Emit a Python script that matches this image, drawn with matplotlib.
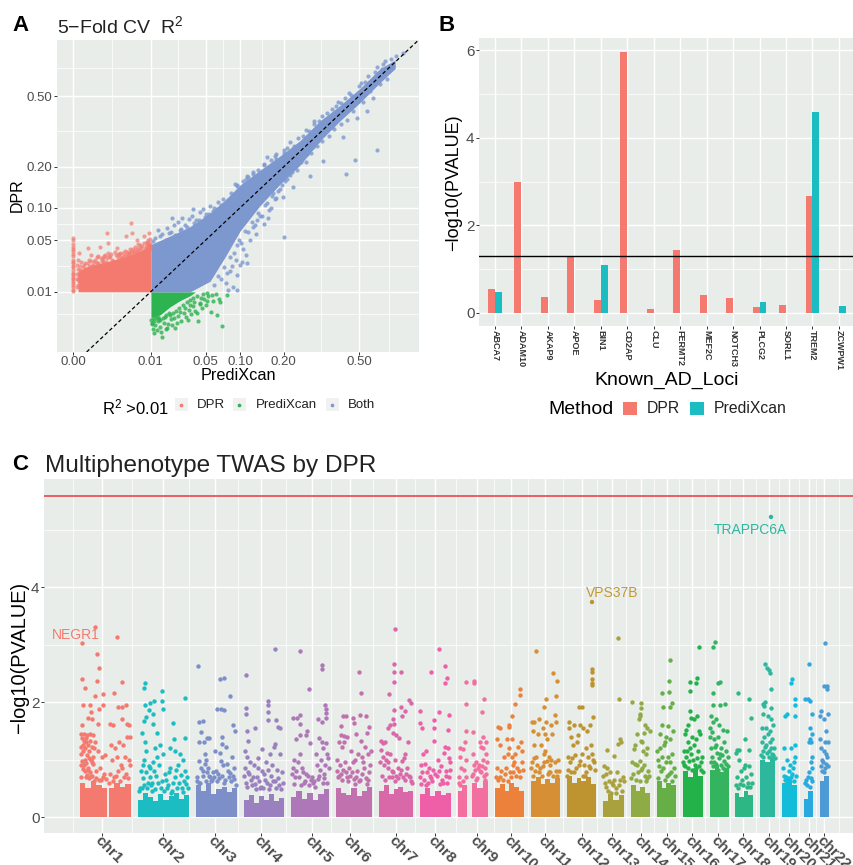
import numpy as np
from matplotlib import pyplot as plt
from matplotlib.patches import Rectangle

plt.rcParams['font.family'] = ['Liberation Sans', 'DejaVu Sans']
plt.rcParams['mathtext.default'] = 'regular'

W, H = 854, 865
BG = '#E9EDEA'
GREY = '#4D4D4D'
RED, GREEN, BLUE, TEAL = '#F47A70', '#2DB34F', '#7C98CF', '#1CBDC2'

#%% Panel A data (R2). The packed middle of each cloud
# could not be read point by point, so it is kept as an envelope (lo/hi) and
# only the loose points around it are listed.
r2_ticks = [0.0, 0.01, 0.05, 0.10, 0.20, 0.50]
r2_labels = ['0.00', '0.01', '0.05', '0.10', '0.20', '0.50']

red_x = [0, 0, 0, 0, 0, 0, 0, 0, 0, 0, 0, 0, 0, 0, 0, 0, 0, 0, 0, 0, 0, 0, 0, 0, 0,
         .00083, .0042, .0043, .0032, .0077, .0094, .00042, .000074, .00092, .0018, 5e-6, .0056, .0064, .0087,
         1e-6, 3e-6, 6e-6, 1e-5, 2e-5, 4e-5, 8e-5, .00012, .0002, .0003, .0005, .0007, .001, .0013, .0016, .002,
         .0025, .003, .0035, .004, .0045, .005, .0055, .006, .0065, .007, .0075, .008, .0085, .009, .0095,
         .00015, .00035, .0006, .0012, .0022, .0028, .0038, .0048, .0058, .0068, .0078, .0088, .0098, .0097, .0099,
         2e-6, 5e-6, 1.5e-5, 3e-5, 6e-5, .0001, .00025, .0004,
         1e-6, 1e-6, 1e-6, 2e-6, 2e-6, 4e-6, 4e-6, 8e-6, 8e-6, 1.2e-5, 1.2e-5, 2e-5, 2.5e-5, 3.5e-5, 5e-5, 7e-5, 9e-5,
         .00013, .00018, .00022, .00028, .00033, .00045, .00055, .00065, .00075, .00085, .00095, .0011, .0014, .0017, .0019,
         .0021, .0024, .0027, .0031, .0034, .0037, .0041, .0044, .0047, .0052, .0057, .0062, .0067, .0072, .0082, .0092, .0096]
red_y = [.012, .014, .016, .018, .02, .022, .025, .028, .03, .033, .035, .038, .04, .042, .045, .05, .053, .0105, .011, .013, .015, .017, .019, .024, .027,
         .059, .073, .059, .055, .055, .059, .042, .041, .047, .041, .036, .05, .044, .048,
         .026, .03, .022, .028, .024, .027, .03, .034, .028, .032, .029, .034, .033, .03, .037, .034,
         .031, .038, .033, .04, .036, .042, .037, .045, .039, .043, .047, .04, .046, .05, .044,
         .025, .027, .031, .035, .036, .033, .036, .038, .041, .034, .038, .043, .051, .04, .046,
         .016, .018, .02, .019, .021, .022, .023, .024,
         .012, .016, .019, .013, .023, .015, .02, .017, .025, .014, .021, .019, .026, .022, .018, .027, .025,
         .029, .026, .03, .027, .033, .031, .029, .033, .028, .031, .036, .032, .029, .034, .031,
         .035, .032, .036, .034, .037, .035, .038, .033, .04, .036, .039, .035, .041, .037, .042, .044, .043]

green_x = [.0151, .0114, .071, .068, .078, .064, .042, .0325, .023, .0178,
           .0105, .011, .012, .0125, .013, .014, .0145, .016, .017, .0185,
           .02, .021, .022, .024, .025, .027, .029, .031, .033, .035,
           .037, .039, .041, .044, .046, .048, .05, .053, .056, .059, .062, .066,
           .0108, .0118, .0135, .0165, .019, .026, .03, .034, .038, .045, .052, .058,
           .0102, .0104, .0112, .0122, .0132, .0142, .0155, .0172, .0195, .0215, .0235, .0255, .0285, .0315, .0345, .0365, .0405, .0435, .0475, .0515]
green_y = [.00055, .00083, .0015, .0064, .0087, .0032, .0021, .0023, .0013, .0013,
           .0019, .0012, .0016, .0011, .0021, .0014, .0009, .0019, .0012, .0017,
           .0024, .0016, .0027, .0019, .003, .0022, .0036, .0028, .0042, .0033,
           .0052, .0041, .0036, .0061, .0047, .0072, .0054, .0083, .0038, .0067, .0091, .0075,
           .0026, .0031, .0024, .0029, .0035, .0038, .0047, .0056, .0064, .0078, .0068, .0088,
           .0023, .0017, .0022, .0026, .0028, .0023, .0026, .0031, .0031, .0036, .0041, .0046, .0055, .0063, .0071, .0076, .0084, .0058, .0093, .0096]

blue_x = [.60, .48, .436, .2, .285, .335, .42, .228, .198, .159, .133, .113, .103, .095, .095, .08, .157, .113, .091, .037,
          .021, .028, .013, .026, .545, .49,
          .02, .03, .04, .05, .06, .07, .08, .09, .10, .12, .14, .16, .18, .2, .23, .26, .3, .35, .4, .45, .5, .55, .6, .65, .72, .77,
          .076, .083, .088, .092, .1, .105, .11, .118, .125, .13, .14, .148, .155, .165, .17, .18, .19, .205, .22, .24, .25, .27, .29, .31,
          .33, .36, .38, .41, .44, .47, .52, .56, .58, .62, .66, .7,
          .012, .015, .018, .022, .025, .033, .036, .044, .047, .055, .065, .072, .085, .095, .11, .125, .15, .175, .21, .28, .32, .39, .43, .51, .63,
          .011, .014, .017, .019, .023, .027, .029, .032, .035, .038, .041, .043, .046, .049, .052, .054, .057, .059, .062, .064, .067, .069, .071, .074, .078, .082, .086,
          .06, .065, .07, .074, .078, .082, .086, .09, .094, .098, .102, .108, .115, .122, .128, .135, .145, .152, .16, .168, .175, .185, .195, .21, .225, .235, .255, .275, .295, .315, .34, .37,
          .095, .105, .115, .125, .135, .15, .165, .18, .2, .22, .245, .27, .3, .33, .37, .41, .46, .53, .59, .64, .69]
blue_y = [.255, .221, .179, .054, .174, .218, .305, .145, .122, .082, .078, .027, .028, .0186, .0108, .0108, .231, .174, .152, .097,
          .082, .082, .063, .063, .42, .386,
          .06, .07, .078, .088, .10, .105, .115, .125, .14, .16, .18, .2, .225, .245, .27, .31, .36, .41, .47, .52, .56, .62, .68, .72, .76, .78,
          .014, .021, .012, .03, .026, .04, .034, .05, .068, .058, .085, .072, .11, .1, .13, .12, .14, .16, .175, .19, .235, .215, .245, .27,
          .29, .31, .34, .36, .38, .42, .47, .53, .49, .57, .6, .69,
          .052, .058, .066, .07, .075, .08, .085, .092, .098, .104, .112, .118, .13, .148, .165, .185, .205, .235, .262, .33, .375, .445, .49, .575, .665,
          .049, .055, .05, .059, .056, .064, .06, .068, .063, .073, .069, .078, .072, .083, .076, .088, .081, .093, .086, .097, .091, .102, .096, .107, .112, .116, .122,
          .013, .018, .016, .024, .02, .032, .025, .036, .044, .05, .046, .062, .06, .075, .07, .09, .085, .105, .095, .125, .118, .135, .15, .165, .185, .2, .215, .24, .265, .29, .315, .345,
          .15, .16, .17, .18, .19, .21, .22, .24, .255, .285, .3, .335, .375, .395, .43, .465, .505, .585, .65, .7, .74]

blue_core_x = [.0102, .0195, .0343, .055, .075, .10, .14, .19, .25, .323, .408, .506, .62, .715]
blue_core_lo = [.01, .01, .01, .015, .032, .062, .104, .152, .205, .29, .375, .465, .58, .67]
blue_core_hi = [.045, .055, .068, .09, .115, .15, .19, .235, .29, .375, .45, .545, .67, .73]
red_core_x = [2.7e-6, 3.7e-5, .00042, .0016, .0040, .008, .0102]
red_core_hi = [.02, .024, .027, .03, .034, .04, .045]
green_core_x = [.0101, .0141, .0195, .0262, .0343, .039]
green_core_lo = [.0028, .0032, .005, .0068, .0085, .0099]

#%% Panel B data
loci = ['ABCA7', 'ADAM10', 'AKAP9', 'APOE', 'BIN1', 'CD2AP', 'CLU', 'FERMT2', 'MEF2C', 'NOTCH3', 'PLCG2', 'SORL1', 'TREM2', 'ZCWPW1']
loci_dpr = [.55, 3.0, .37, 1.3, .3, 5.97, .09, 1.45, .4, .34, .14, .19, 2.68, .01]
loci_predixcan = [.48, 0, 0, 0, 1.1, 0, 0, 0, 0, 0, .24, 0, 4.58, .17]

#%% Panel C data (x = position along the genome axis, y = -log10 p)
# solid base of each chromosome kept as bins with a height, loose points listed
chr_names = ['chr%d' % i for i in range(1, 23)]
chr_ticks = [102, 163, 215, 261, 312, 350, 396, 435, 477, 511, 545, 582, 612, 641, 667, 692, 718, 743, 769, 789, 809, 824]
chr_colors = ['#F47A70', '#1CBDC2', '#7C8FC9', '#9A80BE', '#AE78B8', '#C071AE', '#D868A8', '#EE5FA8', '#F26FA0', '#EC813B', '#D68F35',
              '#BD9430', '#A9A03E', '#8FAB45', '#66AE46', '#23B24A', '#35B45F', '#2DB785', '#2DB89E', '#13BCD8', '#2AA9DF', '#4C9BD4']

chr1_x = [95, 117, 82, 97, 99, 82, 97, 122, 85, 103, 114, 95, 83, 90, 103, 99, 118, 122, 126, 91, 88, 92, 82, 98, 110, 113, 127, 122, 129,
          81, 84, 87, 90, 93, 86, 83, 95, 98, 102, 105, 81, 85, 89, 93, 83, 88, 92, 96, 100, 104, 111, 115, 119, 123, 127, 130, 112, 117, 121, 125, 129, 110, 114, 118, 122, 126, 130, 81, 86, 91, 96, 101,
          82, 84, 86, 88, 90, 92, 94, 81, 83, 85, 87, 89, 91, 93, 82, 84, 86, 88, 90, 92, 81, 83, 85, 87, 89, 94, 99, 103, 106, 109, 113, 116, 120, 124, 128]
chr1_y = [3.30, 3.13, 3.03, 2.83, 2.6, 2.4, 2.36, 2.35, 2.25, 2.14, 2.15, 2.11, 1.95, 1.95, 1.95, 1.88, 1.91, 1.91, 1.94, 1.83, 1.73, 1.71, 1.6, 1.62, 1.62, 1.6, 1.61, 1.71, 1.6,
          1.45, 1.44, 1.43, 1.45, 1.43, 1.3, 1.25, 1.3, 1.15, 1.05, 1.08, 1.1, 1.0, 1.15, 1.05, .9, .85, .95, .8, .85, .75, 1.25, 1.2, 1.3, 1.25, 1.4, 1.4, 1.0, 1.05, .9, 1.05, 1.0, .75, .7, .8, .85, .75, .9, .7, .7, .72, .68, .65,
          1.38, 1.33, 1.38, 1.25, 1.32, 1.22, 1.2, 1.22, 1.14, 1.2, 1.08, 1.02, 1.0, .92, .98, .9, .94, .82, .78, .72, .9, .83, .8, .73, .68, .62, .64, .7, .66, .6, .63, .72, .62, .69, .68]
chr2_x = [145, 144, 162, 162, 185, 145, 150, 154, 163, 149, 153, 146, 144, 153, 173, 142, 157, 174, 185,
          145, 146, 144, 143, 150, 155, 157, 153, 160, 163, 170, 175, 180, 183, 178, 170, 185, 165, 150, 141, 148, 158, 175, 187, 168, 182, 140, 152, 172, 161, 179, 147,
          139, 143, 146, 149, 151, 154, 156, 159, 162, 166, 169, 173, 176, 181, 184, 186, 188, 144, 152, 164, 177, 142, 155, 167, 171, 183]
chr2_y = [2.33, 2.24, 2.2, 2.02, 2.07, 1.95, 1.99, 2.01, 1.88, 1.87, 1.8, 1.74, 1.67, 1.62, 1.63, 1.46, 1.46, 1.35, 1.37,
          1.3, 1.15, 1.0, .9, .85, 1.2, 1.05, .95, 1.25, 1.1, 1.2, 1.15, 1.1, 1.0, .9, .85, .8, .75, .7, .8, .6, .6, .7, .7, .55, .5, .5, .45, .45, .5, .6, .5,
          .45, .68, .78, .88, .55, .8, .72, .9, .62, .65, .78, .6, .82, .73, .62, .58, .5, .55, .6, .45, .5, .5, .48, .5, .42, .43]
chr3_x = [198, 220, 224, 230, 217, 221, 224, 199, 203, 233, 201, 235, 207, 209, 222, 199, 204, 222, 205, 206, 215, 220, 226, 232, 234, 199, 203, 208, 212, 218, 223, 228, 233, 197, 200, 210, 216, 225, 231, 236,
          201, 205, 207, 209, 214, 219, 221, 227, 229, 197, 203, 211, 213, 217, 222, 230, 234, 199, 206, 224]
chr3_y = [2.63, 2.4, 2.41, 2.11, 1.88, 1.88, 1.86, 1.65, 1.67, 1.6, 1.48, 1.49, 1.38, 1.38, 1.39, 1.3, 1.3, 1.27, 1.1, 1.0, 1.15, 1.12, 1.22, 1.05, .85, .97, .8, .85, .65, .75, .9, .8, .72, .7, .6, .7, .8, .65, .62, .55,
          .85, .92, .78, .72, .7, .68, .98, .92, .7, .62, .72, .62, .78, .62, .72, .76, .66, .6, .62, .6]
chr4_x = [275, 246, 246, 246, 268, 268, 268, 268, 276, 278, 280, 247, 255, 248, 275, 274, 270, 262, 258, 280, 266, 254, 245, 247, 250, 258, 262, 268, 272, 277, 282, 245, 249, 253, 257, 265, 270, 275, 246, 252, 260, 279,
          248, 251, 255, 259, 261, 264, 267, 271, 273, 276, 278, 281, 283, 244, 247, 256, 263, 269]
chr4_y = [2.93, 2.47, 1.89, 1.8, 2.02, 1.95, 1.83, 1.68, 1.68, 1.57, 1.54, 1.5, 1.54, 1.33, 1.27, 1.22, 1.1, 1.18, 1.03, 1.1, .95, .9, 1.15, 1.05, .95, .85, .8, .82, .9, .82, .78, .85, .75, .7, .7, .65, .55, .62, .6, .55, .5, .55,
          .78, .65, .58, .62, .52, .75, .6, .72, .62, .5, .68, .48, .6, .72, .52, .48, .5, .48]
chr5_x = [300, 309, 322, 322, 325, 326, 326, 326, 322, 318, 300, 293, 297, 300, 300, 307, 306, 296, 294, 300, 310, 316, 319, 323, 327, 293, 298, 302, 306, 311, 317, 321, 325, 329, 295, 304, 313, 319, 324,
          292, 296, 299, 303, 305, 308, 312, 314, 318, 320, 322, 324, 326, 328, 294, 301, 309, 315, 323, 327]
chr5_y = [2.89, 2.23, 2.64, 2.57, 1.95, 1.88, 1.81, 1.72, 1.65, 1.7, 1.77, 1.72, 1.72, 1.62, 1.42, 1.5, 1.42, 1.35, 1.0, 1.1, 1.29, 1.1, 1.38, 1.2, 1.1, .85, .95, .85, .75, .65, .9, 1.0, .9, .85, .7, .6, .6, .72, .75,
          .75, .8, .7, .78, .62, .72, .7, .62, .66, .82, 1.3, .68, 1.28, 1.02, .58, .55, .55, .52, .6, .6]
chr6_x = [359, 361, 343, 346, 353, 354, 360, 366, 341, 341, 344, 347, 356, 361, 369, 367, 339, 342, 344, 351, 355, 358, 362, 365, 368, 371, 337, 340, 345, 349, 353, 357, 364, 370, 338, 347, 360, 368,
          337, 339, 341, 343, 346, 348, 350, 352, 354, 356, 359, 362, 363, 366, 369, 342, 355, 367]
chr6_y = [2.53, 2.15, 1.76, 1.75, 1.72, 1.64, 1.77, 1.76, 1.58, 1.42, 1.41, 1.4, 1.45, 1.32, 1.57, 1.47, 1.3, 1.22, 1.3, 1.15, 1.0, 1.1, 1.05, 1.22, 1.1, 1.15, 1.0, .9, .95, .85, .95, .8, .85, .9, .7, .7, .65, .65,
          .8, .72, .75, .82, .78, .62, .72, .78, .66, .7, .62, .74, .95, .68, .78, .65, .58, .58]
chr7_x = [395, 394, 394, 401, 394, 389, 394, 401, 405, 409, 411, 402, 390, 393, 394, 388, 393, 396, 399, 385, 381, 383, 387, 408, 405, 404, 402, 398, 395, 380, 384, 388, 392, 400, 407, 385, 392, 410,
          381, 383, 386, 388, 390, 393, 396, 398, 401, 403, 406, 409, 411, 382, 389, 395, 405, 412]
chr7_y = [3.27, 2.67, 2.52, 2.53, 2.35, 2.14, 1.86, 1.92, 1.84, 2.03, 1.98, 1.75, 1.6, 1.7, 1.62, 1.55, 1.47, 1.43, 1.38, 1.3, 1.17, 1.05, 1.12, 1.3, 1.1, 1.03, .98, .85, 1.0, .95, .9, .85, .8, .75, .85, .65, .7, .7,
          1.32, 1.28, 1.0, .95, 1.1, .78, .72, .68, .82, .7, .75, .72, .62, .72, .7, .62, .65, .6]
chr8_x = [439, 445, 447, 445, 431, 420, 439, 449, 434, 448, 434, 434, 420, 422, 445, 448, 449, 423, 426, 438, 444, 450, 421, 425, 429, 433, 441, 446, 420, 430, 437, 449, 424, 428, 442, 447,
          422, 427, 431, 435, 439, 443, 446, 450, 426, 432, 440, 421]
chr8_y = [2.93, 2.63, 2.42, 2.33, 2.52, 1.85, 1.82, 1.78, 1.55, 1.52, 1.32, 1.68, 1.63, 1.55, 1.22, 1.2, 1.02, 1.1, 1.15, 1.0, 1.12, .95, .9, .92, .85, .82, .88, .8, .7, .72, .72, .7, .65, .6, .65, .6,
          .78, .78, .68, .75, .8, .6, .72, .82, .55, .62, .58, .58]
chr9_x = [466, 474, 474, 466, 484, 482, 466, 473, 465, 460, 463, 480, 483, 486, 481, 473, 476, 460, 466, 461, 464, 474, 478, 483, 486, 459, 466, 473, 480, 485, 460, 476,
          479, 481, 484, 487, 475, 472, 477, 482, 486, 463, 459, 485, 483]
chr9_y = [2.35, 2.36, 2.34, 1.97, 2.05, 1.83, 1.49, 1.48, 1.3, 1.2, 1.19, 1.3, 1.4, 1.3, 1.22, 1.1, .95, 1.05, 1.0, .85, .82, .9, .85, 1.0, 1.1, .7, .7, .75, .8, .85, .55, .65,
          .9, .78, .72, .95, .82, .72, .68, .88, .75, .62, .6, .65, 1.2]
chr10_x = [520, 520, 515, 512, 509, 498, 500, 509, 512, 497, 500, 507, 509, 518, 521, 515, 522, 512, 508, 504, 497, 501, 513, 517, 522, 500, 505, 511, 519, 496,
           506, 510, 514, 516, 520, 523, 498, 503, 508, 513]
chr10_y = [2.23, 2.12, 1.97, 1.75, 1.57, 1.57, 1.55, 1.6, 1.35, 1.35, 1.25, 1.35, 1.2, 1.22, 1.3, 1.1, 1.15, 1.05, 1.1, 1.05, .85, .8, .9, .85, .95, .7, .75, .7, .8, .7,
           .85, .78, .95, .72, .7, .82, .65, .65, .62, .78]
chr11_x = [536, 553, 557, 556, 546, 544, 555, 532, 534, 539, 543, 546, 551, 556, 533, 538, 545, 547, 552, 534, 541, 545, 549, 536, 544, 558, 532, 540, 550, 556, 535, 548,
           531, 533, 537, 539, 542, 544, 547, 549, 551, 553, 555, 557, 559, 543, 550, 534]
chr11_y = [2.89, 2.51, 2.36, 2.11, 2.06, 1.92, 1.77, 1.65, 1.65, 1.7, 1.55, 1.65, 1.6, 1.65, 1.5, 1.45, 1.45, 1.35, 1.45, 1.25, 1.25, 1.15, 1.05, 1.05, .95, 1.0, .95, .85, .9, .8, .8, .75,
           .85, .72, .9, .78, .72, 1.1, .98, .78, 1.0, .72, .95, .72, .8, .88, .78, 1.02]
chr12_x = [592, 592, 592, 592, 593, 579, 582, 592, 569, 569, 574, 580, 583, 590, 571, 578, 587, 591, 573, 577, 586, 592, 568, 575, 582, 588, 594, 570, 579, 590,
           568, 572, 576, 580, 584, 586, 589, 593, 595, 574, 583, 567, 585, 571]
chr12_y = [2.57, 2.52, 2.4, 2.33, 1.74, 1.92, 1.91, 2.3, 1.65, 1.55, 1.6, 1.6, 1.55, 1.6, 1.4, 1.42, 1.5, 1.25, 1.25, 1.3, 1.2, 1.1, 1.05, 1.08, 1.1, 1.05, .95, .95, .9, .85,
           .82, 1.02, .85, .98, .9, .78, .88, 1.0, .82, .78, .72, .72, .72, .78]
chr13_x = [618, 619, 607, 614, 620, 621, 618, 607, 604, 606, 610, 614, 617, 620, 623, 605, 612, 608, 616, 622, 603, 609, 613, 619, 624, 606, 611, 616]
chr13_y = [3.12, 2.05, 1.16, 1.07, 1.35, 1.3, 1.27, .85, .88, .75, .78, .65, .78, .65, .7, .6, .6, .45, .5, .45, .72, .62, .55, .55, .62, .52, .42, .42]
chr14_x = [632, 641, 641, 640, 640, 639, 645, 647, 650, 637, 644, 642, 641, 647, 635, 643, 634, 640, 646, 632, 637, 642, 648, 633, 645,
           631, 635, 638, 641, 644, 647, 649, 636, 640, 646]
chr14_y = [2.0, 1.98, 1.9, 1.8, 1.75, 1.7, 1.6, 1.55, 1.5, 1.45, 1.47, 1.3, 1.33, 1.2, 1.25, 1.15, 1.18, .98, 1.1, .95, .9, .85, .8, .75, .72,
           .68, .92, .78, .82, .9, .68, .72, .65, .62, .62]
chr15_x = [670, 669, 669, 662, 672, 670, 663, 668, 662, 660, 666, 673, 665, 670, 657, 660, 664, 668, 672, 658, 662, 670, 666, 674, 661, 669,
           659, 663, 667, 671, 675, 658, 665, 672]
chr15_y = [2.74, 2.36, 2.17, 2.15, 1.98, 1.92, 1.92, 1.58, 1.6, 1.45, 1.4, 1.5, 1.3, 1.35, 1.15, 1.2, 1.25, 1.05, 1.1, 1.0, 1.05, .95, .95, .85, .8, .75,
           .88, .85, .72, .78, .72, .68, .65, .62]
chr16_x = [699, 697, 690, 696, 690, 690, 697, 691, 688, 694, 699, 686, 692, 685, 696, 700, 688, 694, 684, 690, 698, 702, 686, 693, 701, 684,
           687, 689, 691, 695, 697, 699, 701, 683, 685, 692, 696, 703, 688, 694]
chr16_y = [2.95, 2.41, 2.2, 2.33, 2.35, 1.85, 1.75, 1.72, 1.6, 1.7, 1.5, 1.52, 1.4, 1.45, 1.35, 1.45, 1.3, 1.25, 1.15, 1.2, 1.15, 1.05, 1.05, 1.0, .95, .9,
           1.15, .98, 1.1, .9, 1.02, .88, .82, .95, .88, .82, .85, .78, .85, .82]
chr17_x = [715, 713, 713, 720, 718, 713, 720, 725, 711, 716, 713, 719, 723, 727, 710, 714, 718, 724, 711, 716, 721, 726, 712, 720, 728, 714,
           710, 712, 715, 717, 719, 722, 724, 726, 728, 711, 716, 721, 713, 725, 718, 723]
chr17_y = [3.04, 2.95, 2.15, 2.35, 2.33, 1.95, 1.95, 1.97, 1.75, 1.7, 1.65, 1.6, 1.52, 1.5, 1.4, 1.35, 1.4, 1.3, 1.2, 1.25, 1.2, 1.15, 1.05, 1.1, 1.05, .95,
           1.55, 1.48, 1.22, 1.12, 1.02, 1.08, .98, .92, .88, .95, .92, .9, .88, .82, .82, .85]
chr18_x = [738, 749, 751, 745, 737, 739, 736, 749, 739, 745, 749, 741, 744, 751, 737, 746, 742, 748, 752, 736, 740, 743, 747, 750, 738]
chr18_y = [2.15, 2.05, 1.72, 1.35, 1.17, 1.17, 1.12, 1.17, 1.0, .9, .88, .8, .85, .75, .7, .7, .65, .6, .6, .55, .58, .55, .52, .52, .5]
chr19_x = [765, 767, 769, 770, 771, 763, 764, 765, 771, 763, 768, 771, 762, 766, 770, 773, 764, 768, 772, 762, 766, 770, 774, 763, 769, 772,
           761, 763, 765, 767, 769, 771, 773, 775]
chr19_y = [2.67, 2.6, 2.55, 2.5, 2.23, 1.97, 1.93, 2.0, 1.9, 1.8, 1.75, 1.7, 1.55, 1.55, 1.5, 1.6, 1.4, 1.45, 1.35, 1.3, 1.25, 1.3, 1.2, 1.15, 1.15, 1.1,
           1.08, 1.05, 1.22, 1.12, 1.05, 1.2, 1.08, 1.02]
chr20_x = [792, 791, 795, 795, 795, 785, 787, 791, 795, 795, 784, 787, 790, 794, 783, 789, 793, 786, 791, 784, 788, 792, 796, 785, 790, 794, 787]
chr20_y = [2.4, 2.33, 2.05, 1.95, 1.75, 1.75, 1.8, 1.2, 1.25, 1.05, 1.2, 1.0, .9, .95, .85, .8, .85, .7, .7, .72, .68, .75, .72, .65, .62, .62, .62]
chr21_x = [809, 805, 808, 810, 812, 810, 812, 810, 809, 811, 812, 806, 811, 808, 805, 812, 809, 811, 807, 812, 810]
chr21_y = [2.67, 2.05, 2.05, 2.02, 1.8, 1.55, 1.45, 1.35, 1.3, 1.3, 1.05, .65, .95, .7, .6, .85, .78, .68, .55, .62, .52]
chr22_x = [825, 824, 827, 827, 821, 820, 824, 828, 826, 820, 825, 828, 821, 826, 824, 822, 827, 823, 826, 821, 825, 828, 822, 824]
chr22_y = [3.02, 2.28, 2.28, 2.23, 1.85, 1.75, 1.7, 1.8, 1.5, 1.35, 1.3, 1.3, 1.2, 1.1, 1.15, 1.0, 1.05, .95, .92, .88, .85, .88, .8, .78]
chr_x = [chr1_x, chr2_x, chr3_x, chr4_x, chr5_x, chr6_x, chr7_x, chr8_x, chr9_x, chr10_x, chr11_x,
         chr12_x, chr13_x, chr14_x, chr15_x, chr16_x, chr17_x, chr18_x, chr19_x, chr20_x, chr21_x, chr22_x]
chr_y = [chr1_y, chr2_y, chr3_y, chr4_y, chr5_y, chr6_y, chr7_y, chr8_y, chr9_y, chr10_y, chr11_y,
         chr12_y, chr13_y, chr14_y, chr15_y, chr16_y, chr17_y, chr18_y, chr19_y, chr20_y, chr21_y, chr22_y]

# solid base: each block runs left to right, its height read in even bins
base_left = [80, 109, 138, 196, 244, 291, 336, 379, 420, 458, 472, 495, 531, 567, 603, 631, 657, 683, 710, 735, 760, 782, 804, 820]
base_right = [107, 131, 189, 237, 284, 329, 372, 413, 451, 467, 488, 524, 560, 596, 624, 650, 676, 703, 729, 753, 775, 797, 813, 829]
base_chr = [0, 0, 1, 2, 3, 4, 5, 6, 7, 8, 8, 9, 10, 11, 12, 13, 14, 15, 16, 17, 18, 19, 20, 21]
base_tops = [[.6, .5, .62, .55, .5], [.5, .6, .52, .58], [.3, .42, .34, .28, .4, .3, .36, .42, .32, .38], [.55, .45, .6, .4, .48, .52, .44, .5],
             [.3, .38, .25, .36, .3, .4, .28, .33], [.35, .45, .32, .42, .3, .4, .48], [.5, .42, .38, .5, .36, .46, .52], [.45, .55, .4, .48, .52, .44, .46],
             [.4, .5, .36, .46, .38, .42], [.45, .55], [.6, .5, .62], [.5, .58, .45, .6, .52, .46], [.62, .7, .58, .66, .6, .68], [.72, .6, .68, .62, .7, .58],
             [.28, .4, .3, .38], [.55, .45, .52, .42], [.62, .5, .6, .55], [.8, .7, .82, .72], [.82, .9, .78, .86], [.42, .35, .45, .38],
             [1.0, .95, 1.05], [.6, .68, .55], [.32, .45], [.62, .72]]

gene_labels = ['NEGR1', 'VPS37B', 'TRAPPC6A']
gene_x = [75.5, 612, 750]
gene_y = [3.16, 3.9, 5.0]
gene_colors = ['#F47A70', '#C09A35', '#2DB89E']
gene_dot_x = [592, 771]
gene_dot_y = [3.74, 5.22]
gene_dot_colors = ['#BD9430', '#2DB89E']
bonferroni = 5.587


def add_axes(l, t, r, b):
    ax = fig.add_axes([l / W, 1 - b / H, (r - l) / W, (b - t) / H])
    ax.set_facecolor(BG)
    for s in ax.spines.values():
        s.set_visible(False)
    ax.set_axisbelow(True)
    ax.grid(which='major', color='white', lw=1.0)
    ax.grid(which='minor', color='white', lw=0.5)
    ax.tick_params(which='major', length=2.2, width=0.7, color='#333333', labelcolor=GREY, pad=1)
    ax.tick_params(which='minor', length=0)
    return ax


def minors(vals):
    return [(np.cbrt(a) / 2 + np.cbrt(b) / 2) ** 3 for a, b in zip(vals[:-1], vals[1:])]


fig = plt.figure(figsize=(W / 100, H / 100), dpi=100)

#%% A
ax = add_axes(57, 40, 419, 352)
cube = lambda v: np.asarray(v) ** 3
ax.set_xscale('function', functions=(np.cbrt, cube))
ax.set_yscale('function', functions=(np.cbrt, cube))
ax.fill_between(red_core_x, 0.01, red_core_hi, color=RED, lw=0)
ax.fill_between(green_core_x, green_core_lo, 0.01, color=GREEN, lw=0)
ax.fill_between(blue_core_x, blue_core_lo, blue_core_hi, color=BLUE, lw=0)
ax.scatter(red_x, red_y, s=9, color=RED, alpha=.7, lw=0)
ax.scatter(green_x, green_y, s=9, color=GREEN, alpha=.8, lw=0)
ax.scatter(blue_x, blue_y, s=9, color=BLUE, alpha=.8, lw=0)
ax.plot([5.4e-5, .883], [5.4e-5, .883], color='black', lw=.9, ls=(0, (3, 2)))
ax.set_xlim(-8.8e-5, .886)
ax.set_ylim(5.4e-5, .883)
ax.set_xticks(r2_ticks, r2_labels, fontsize=9.5)
ax.set_xticks(minors(r2_ticks + [.886]), minor=True)
ax.set_yticks(r2_ticks[1:], r2_labels[1:], fontsize=9.5)
ax.set_yticks(minors([.0006] + r2_ticks[1:] + [.883]), minor=True)

#%% B
ax = add_axes(479, 38, 854, 326)
pos = np.arange(len(loci))
ax.bar(pos - .13, loci_dpr, width=.26, color=RED)
ax.bar(pos + .13, loci_predixcan, width=.26, color=TEAL)
ax.axhline(1.3, color='black', lw=1)
ax.set_xlim(-.6, 13.57)
ax.set_ylim(-.297, 6.28)
ax.set_xticks(pos, loci, rotation=270, fontsize=6.5, fontweight='bold', color='#333333')
ax.set_yticks([0, 2, 4, 6], ['0', '2', '4', '6'], fontsize=11)
ax.set_yticks([1, 3, 5], minor=True)

#%% C
ax = add_axes(44, 479, 854, 833)
for l, r, tops, c in zip(base_left, base_right, base_tops, base_chr):
    ax.stairs(tops, np.linspace(l, r, len(tops) + 1), baseline=0, fill=True, color=chr_colors[c], zorder=2)
for xs, ys, c in zip(chr_x, chr_y, chr_colors):
    ax.scatter(xs, ys, s=10, color=c, lw=0, zorder=3)
ax.scatter(gene_dot_x, gene_dot_y, s=10, c=gene_dot_colors, lw=0, zorder=3)
ax.axhline(bonferroni, color='#E8474C', lw=1.2, zorder=4)
for g, x, y, c in zip(gene_labels, gene_x, gene_y, gene_colors):
    ax.text(x, y, g, color=c, fontsize=10, ha='center', va='center', zorder=5)
ax.set_xlim(44, 854)
ax.set_ylim(-.278, 5.88)
ax.set_xticks(chr_ticks)
ax.set_xticklabels(chr_names, rotation=-45, ha='left', va='top', rotation_mode='anchor',
                   fontsize=11, fontweight='bold', color=GREY)
ax.set_xticks([(a + b) / 2 for a, b in zip([44] + chr_ticks[:-1], chr_ticks)] + [839], minor=True)
ax.set_yticks([0, 2, 4], ['0', '2', '4'], fontsize=11)
ax.set_yticks([1, 3, 5], minor=True)
ax.tick_params(axis='x', which='major', pad=-2)

#%% text and legends, placed in picture coordinates
ov = fig.add_axes([0, 0, 1, 1], facecolor='none')
ov.set_axis_off()
ov.set_xlim(0, W)
ov.set_ylim(H, 0)

for s, x, y in zip('ABC', [12, 439, 12], [31, 31, 470]):
    ov.text(x, y, s, fontsize=16, fontweight='bold', ha='left', va='baseline')
ov.text(57, 33, '5\u2212Fold CV  R$^2$', fontsize=14, ha='left', va='baseline', color='#222222')
ov.text(45, 472, 'Multiphenotype TWAS by DPR', fontsize=17.6, ha='left', va='baseline', color='#222222')
ov.text(17, 195, 'DPR', fontsize=11.5, rotation=90, ha='center', va='center')
ov.text(238, 376, 'PrediXcan', fontsize=11.7, ha='center', va='center')
ov.text(454, 183, '\u2212log10(PVALUE)', fontsize=13, rotation=90, ha='center', va='center')
ov.text(667, 380, 'Known_AD_Loci', fontsize=14, ha='center', va='center')
ov.text(20, 657, '\u2212log10(PVALUE)', fontsize=14.4, rotation=90, ha='center', va='center')

ov.text(102, 407, 'R$^2$ >0.01', fontsize=12, ha='left', va='center')
for x0, c, name, tx in zip([175, 233, 326], [RED, GREEN, BLUE], ['DPR', 'PrediXcan', 'Both'], [197, 256, 348]):
    ov.add_patch(Rectangle((x0, 398), 13, 13, color='#F1F1F1', lw=0))
    ov.scatter([x0 + 6.5], [404.5], s=7, color=c, lw=0)
    ov.text(tx, 405, name, fontsize=9.5, ha='left', va='center', color='#222222')

ov.text(548, 409, 'Method', fontsize=14, ha='left', va='center')
for x0, c, name, tx in zip([623, 690], [RED, TEAL], ['DPR', 'PrediXcan'], [647, 714]):
    ov.add_patch(Rectangle((x0, 402), 14, 13, color=c, lw=0))
    ov.text(tx, 408.5, name, fontsize=11.3, ha='left', va='center', color='#222222')

plt.savefig('out.png', dpi=100)
